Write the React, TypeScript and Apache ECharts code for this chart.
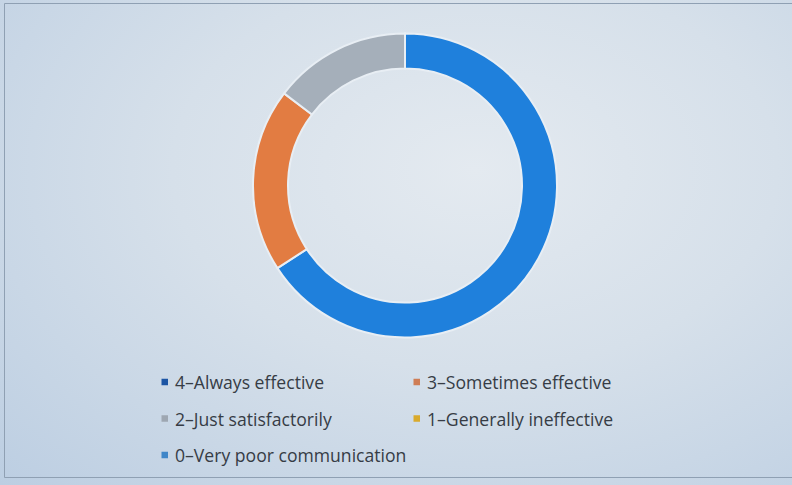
import React, { useEffect, useRef } from "react";
import * as echarts from "echarts";

const categories = [
  "4–Always effective",
  "3–Sometimes effective",
  "2–Just satisfactorily",
  "1–Generally ineffective",
  "0–Very poor communication",
];
const counts = [27, 8, 6, 0, 0];
const sliceColors = ["#1f80dc", "#e27c42", "#a5afba", "#e0b030", "#4a8fd0"];
const legendColors = ["#1c55a4", "#cf7d55", "#9ea7b2", "#d9aa2c", "#3f86c8"];

export default function App() {
  const ref = useRef<HTMLDivElement>(null);
  useEffect(() => {
    if (!ref.current) return;
    const chart = echarts.init(ref.current, undefined, { renderer: "svg" });
    const legendItem = (i: number) => ({
      name: categories[i],
      itemStyle: { color: legendColors[i], borderWidth: 0 },
    });
    const legendCommon = {
      orient: "vertical" as const,
      icon: "rect",
      itemWidth: 6.5,
      itemHeight: 6.5,
      itemGap: 16.5,
      top: 367,
      selectedMode: false,
      itemStyle: { borderWidth: 0 },
      textStyle: {
        fontFamily: "Open Sans",
        fontSize: 17.6,
        color: "#363c45",
        lineHeight: 20,
        padding: [0, 0, 0, 2],
      },
    };
    chart.setOption({
      animation: false,
      backgroundColor: "transparent",
      graphic: [
        {
          type: "rect",
          shape: { x: 4.5, y: 3.5, width: 820, height: 474 },
          style: { fill: "none", stroke: "#8fa0b3", lineWidth: 1 },
          silent: true,
        },
      ],
      legend: [
        { ...legendCommon, left: 156.5, data: [0, 2, 4].map(legendItem) },
        { ...legendCommon, left: 408.5, data: [1, 3].map(legendItem) },
      ],
      series: [
        {
          type: "pie",
          center: [405, 185.5],
          radius: [117, 152],
          startAngle: 90,
          clockwise: true,
          label: { show: false },
          labelLine: { show: false },
          emphasis: { disabled: true },
          itemStyle: { borderColor: "#e8eef4", borderWidth: 2 },
          data: categories.map((name, i) => ({
            name,
            value: counts[i],
            itemStyle: { color: sliceColors[i] },
          })),
        },
      ],
    });
    return () => chart.dispose();
  }, []);
  return (
    <div
      style={{
        position: "absolute",
        left: 0,
        top: 0,
        width: 792,
        height: 485,
        background:
          "radial-gradient(ellipse at 60% 35%, #e4eaf0 0%, #d6e0ea 45%, #bccee2 100%)",
      }}
    >
      <div ref={ref} style={{ width: 792, height: 485 }} />
    </div>
  );
}
